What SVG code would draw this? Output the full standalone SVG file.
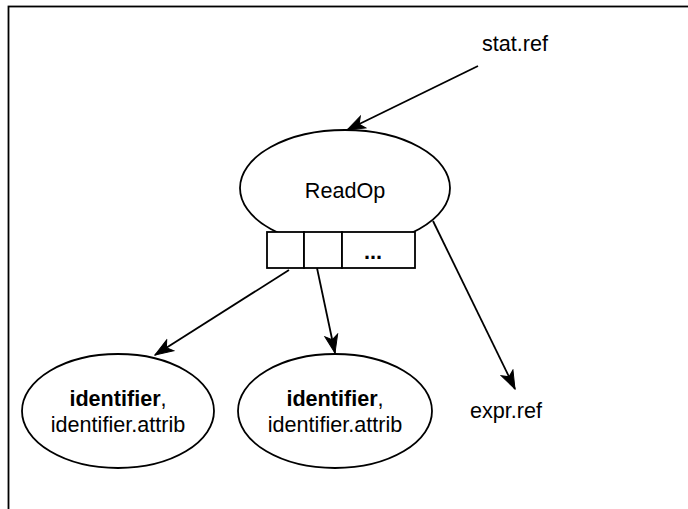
<svg xmlns="http://www.w3.org/2000/svg" width="688" height="509" viewBox="0 0 688 509">
<defs>
<style>
.shape{fill:#fff;stroke:#000;stroke-width:1.8}
.edge{fill:none;stroke:#000;stroke-width:1.8}
text{font-family:"Liberation Sans",Arial,Helvetica,sans-serif;font-size:21.6px;fill:#000;text-anchor:middle}
.b{font-weight:bold}
</style>
<marker id="arr" viewBox="0 0 20 16" refX="19" refY="8" markerWidth="20" markerHeight="16" orient="auto" markerUnits="userSpaceOnUse">
<path d="M19,8 L1,1.5 L5.5,8 L1,14.5 Z" fill="#000" stroke="#000" stroke-width="1"/>
</marker>
</defs>
<rect x="8.5" y="6.5" width="700" height="520" fill="#fff" stroke="#000" stroke-width="1.8"/>
<g id="edges">
<line class="edge" x1="478" y1="66" x2="347" y2="130" marker-end="url(#arr)"/>
<line class="edge" x1="289" y1="270" x2="155" y2="355" marker-end="url(#arr)"/>
<line class="edge" x1="317" y1="268" x2="335" y2="353" marker-end="url(#arr)"/>
<line class="edge" x1="433" y1="221" x2="515" y2="389" marker-end="url(#arr)"/>
</g>
<g id="readop">
<ellipse class="shape" cx="345" cy="188" rx="105" ry="58"/>
<text x="345" y="198">ReadOp</text>
</g>
<g id="fields">
<rect class="shape" x="267" y="232" width="37" height="36"/>
<rect class="shape" x="304" y="232" width="38" height="36"/>
<rect class="shape" x="342" y="232" width="73" height="36"/>
<text class="b" x="373" y="259">...</text>
</g>
<g id="ident1">
<ellipse class="shape" cx="118" cy="411" rx="96" ry="57"/>
<text x="118" y="406"><tspan class="b">identifier</tspan>,</text>
<text x="118" y="432">identifier.attrib</text>
</g>
<g id="ident2">
<ellipse class="shape" cx="335" cy="411" rx="97" ry="57"/>
<text x="335" y="406"><tspan class="b">identifier</tspan>,</text>
<text x="335" y="432">identifier.attrib</text>
</g>
<g id="statref">
<text x="515" y="51">stat.ref</text>
</g>
<g id="exprref">
<text x="506" y="418">expr.ref</text>
</g>
</svg>
